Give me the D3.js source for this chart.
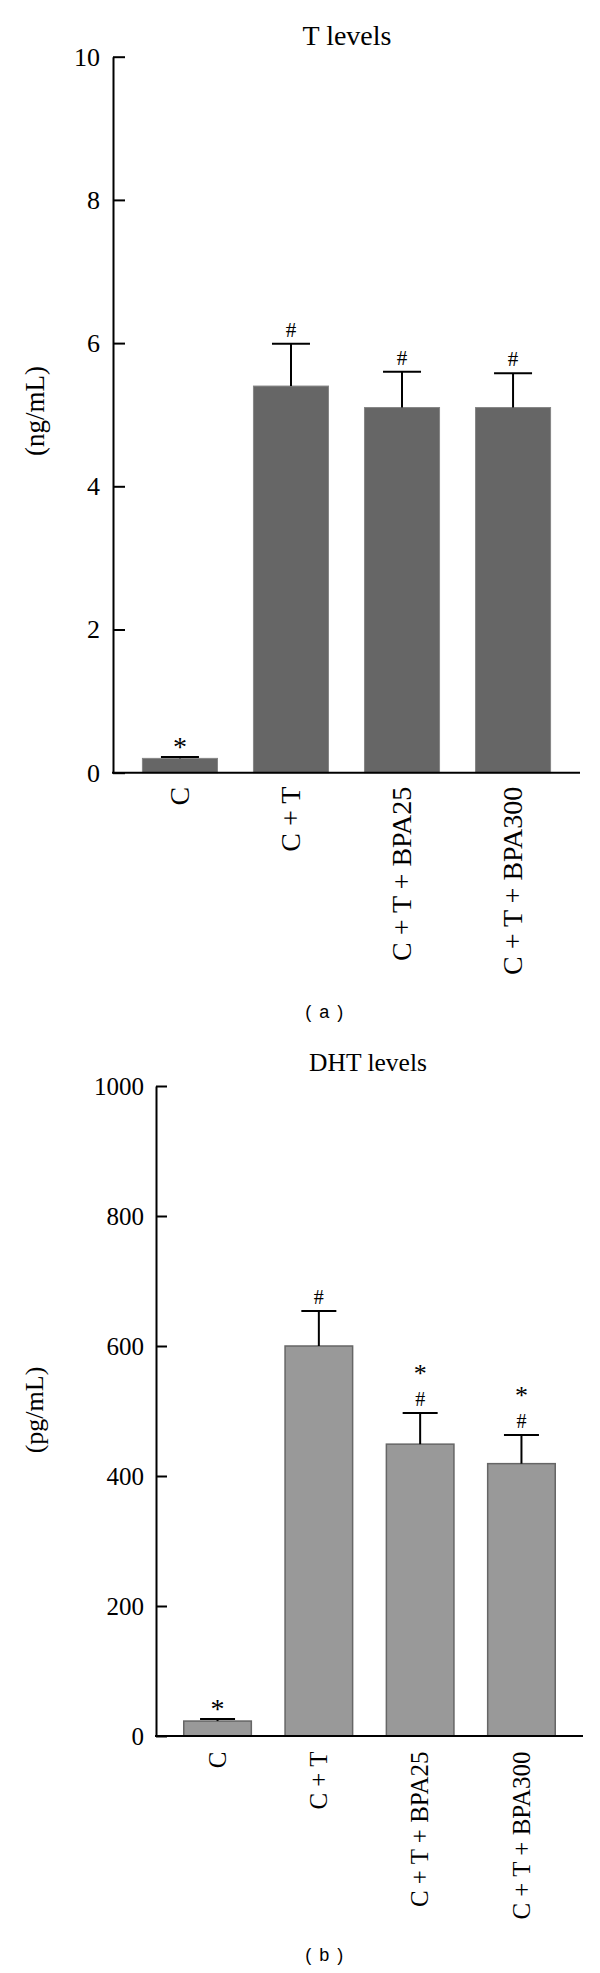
<!DOCTYPE html>
<meta charset="utf-8">
<head>
    <script type="text/javascript" src="https://cdn.jsdelivr.net/npm/d3@7"></script>
    <style>
        body { margin: 0; background: #fff; }
        svg { display: block; }
        text { font-family: "Liberation Serif", "Times New Roman", serif; fill: #000; }
        .caption { font-family: "Liberation Sans", Arial, sans-serif; }
    </style>
    <title></title>
</head>
<body>
<div id="chart"></div>
<script>
    // data
    var groups = ["C", "C + T", "C + T + BPA25", "C + T + BPA300"];

    var tMeans = [0.2, 5.4, 5.1, 5.1];
    var tErrors = [0.02, 0.59, 0.5, 0.48];
    var tMarks = [["*"], ["#"], ["#"], ["#"]];
    var tTicks = [0, 2, 4, 6, 8, 10];

    var dhtMeans = [23, 600, 449, 419];
    var dhtErrors = [3, 54, 48, 44];
    var dhtMarks = [["*"], ["#"], ["#", "*"], ["#", "*"]];
    var dhtTicks = [0, 200, 400, 600, 800, 1000];

    var svg = d3.select("#chart").append("svg")
        .attr("width", 600)
        .attr("height", 1973);

    svg.append("rect").attr("width", 600).attr("height", 1973).attr("fill", "#fff");

    function drawPanel(p) {
        var g = svg.append("g");

        var x = d3.scaleBand()
            .domain(groups)
            .range([p.left, p.right])
            .paddingInner(p.padIn)
            .paddingOuter(p.padOut);

        var y = d3.scaleLinear()
            .domain([0, p.max])
            .range([p.bottom, p.top]);

        // bars
        g.selectAll(".bar")
            .data(p.means)
            .enter().append("rect")
            .attr("x", function (d, i) { return x(groups[i]); })
            .attr("y", function (d) { return y(d); })
            .attr("width", x.bandwidth())
            .attr("height", function (d) { return y(0) - y(d); })
            .attr("fill", p.fill)
            .attr("stroke", p.stroke)
            .attr("stroke-width", p.strokeW);

        // error bars (upper only)
        var eb = g.selectAll(".err")
            .data(p.means)
            .enter().append("g")
            .attr("transform", function (d, i) { return "translate(" + (x(groups[i]) + x.bandwidth() / 2) + ",0)"; });

        eb.append("line")
            .attr("x1", 0).attr("x2", 0)
            .attr("y1", function (d) { return y(d); })
            .attr("y2", function (d, i) { return y(d + p.errors[i]); })
            .attr("stroke", "#000").attr("stroke-width", 2);

        eb.append("line")
            .attr("x1", -p.cap).attr("x2", p.cap)
            .attr("y1", function (d, i) { return y(d + p.errors[i]); })
            .attr("y2", function (d, i) { return y(d + p.errors[i]); })
            .attr("stroke", "#000").attr("stroke-width", 2);

        // significance marks (# sits on the cap, * above it)
        eb.each(function (d, i) {
            var capY = y(d + p.errors[i]);
            var sel = d3.select(this);
            p.marks[i].forEach(function (m, k) {
                var yy, fs;
                if (m == "#") { yy = capY - 7; fs = p.markSize; }
                else if (k == 0) { yy = capY - 1; fs = 28; }
                else { yy = capY - 31; fs = 26; }
                sel.append("text")
                    .attr("x", 0)
                    .attr("y", yy)
                    .attr("text-anchor", "middle")
                    .style("font-size", fs + "px")
                    .text(m);
            });
        });

        // y axis, ticks pointing inward
        var yAxis = g.append("g")
            .attr("transform", "translate(" + p.left + ",0)")
            .call(d3.axisLeft(y).tickValues(p.ticks).tickFormat(d3.format("d"))
                .tickSizeInner(-p.tick).tickSizeOuter(0).tickPadding(p.tickPad));
        yAxis.attr("font-family", null).attr("font-size", null);
        yAxis.selectAll("text")
            .style("font-family", "'Liberation Serif', 'Times New Roman', serif")
            .style("font-size", p.tickFont + "px");
        yAxis.selectAll("line, path").attr("stroke", "#000").attr("stroke-width", 2);

        // x axis with rotated labels
        var xAxis = g.append("g")
            .attr("transform", "translate(0," + p.bottom + ")")
            .call(d3.axisBottom(x).tickSize(0).tickSizeOuter(0));
        xAxis.attr("font-family", null).attr("font-size", null);
        xAxis.select(".domain").attr("stroke", "#000").attr("stroke-width", 2)
            .attr("d", "M" + (p.left - 1) + ",0H" + p.right);
        xAxis.selectAll("text")
            .attr("transform", "rotate(-90)")
            .attr("x", -p.labelGap)
            .attr("y", 0)
            .attr("dy", "0.33em")
            .style("text-anchor", "end")
            .style("font-family", "'Liberation Serif', 'Times New Roman', serif")
            .style("font-size", p.labelFont + "px");

        // title
        g.append("text")
            .attr("x", p.titleX).attr("y", p.titleY)
            .attr("text-anchor", "middle")
            .style("font-size", p.titleFont + "px")
            .text(p.title);

        // y label
        g.append("text")
            .attr("transform", "translate(" + p.ylabX + "," + p.ylabY + ") rotate(-90)")
            .attr("text-anchor", "middle")
            .style("font-size", p.ylabFont + "px")
            .text(p.ylab);

        // panel caption
        g.append("text")
            .attr("class", "caption")
            .attr("x", 325).attr("y", p.capY)
            .attr("text-anchor", "middle")
            .style("font-size", "18px")
            .style("letter-spacing", "1.5px")
            .text(p.caption);
    }

    drawPanel({
        means: tMeans, errors: tErrors, marks: tMarks, ticks: tTicks, max: 10,
        left: 113, right: 580, top: 56.7, bottom: 772.7,
        padIn: 0.324, padOut: 0.265,
        fill: "#666666", stroke: "#858585", strokeW: 1,
        cap: 19, tick: 12, tickPad: 13, tickFont: 26, labelFont: 28, labelGap: 14, markSize: 21,
        title: "T levels", titleX: 347, titleY: 45, titleFont: 28,
        ylab: "(ng/mL)", ylabX: 44, ylabY: 411, ylabFont: 27,
        caption: "( a )", capY: 1018
    });

    drawPanel({
        means: dhtMeans, errors: dhtErrors, marks: dhtMarks, ticks: dhtTicks, max: 1000,
        left: 156, right: 583, top: 1086, bottom: 1736,
        padIn: 0.333, padOut: 0.274,
        fill: "#999999", stroke: "#666666", strokeW: 1.5,
        cap: 17.5, tick: 11, tickPad: 12, tickFont: 25, labelFont: 25, labelGap: 15.5, markSize: 20,
        title: "DHT levels", titleX: 368, titleY: 1071, titleFont: 25.5,
        ylab: "(pg/mL)", ylabX: 43, ylabY: 1410, ylabFont: 26,
        caption: "( b )", capY: 1961
    });
</script>
</body>
</html>
